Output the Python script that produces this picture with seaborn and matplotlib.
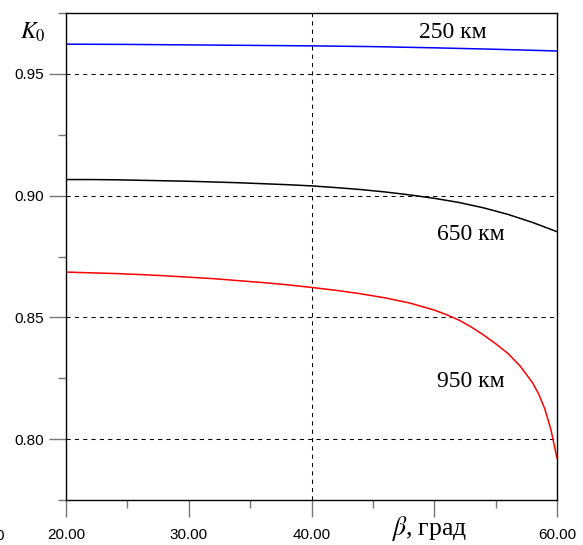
import numpy as np
import pandas as pd
import matplotlib
matplotlib.use("Agg")
import matplotlib.pyplot as plt
import seaborn as sns
from matplotlib.ticker import MultipleLocator

# ---- data ----
beta_250 = [20, 25, 30, 35, 40, 45, 50, 55, 60]
k_250 = [0.9622, 0.9621, 0.9619, 0.9617, 0.9615, 0.9612, 0.9607, 0.9601, 0.9594]

beta_650 = [20, 22, 24, 26, 28, 30, 32, 34, 36, 38, 40, 42, 44, 46, 48, 50, 52, 54, 56, 58, 60]
k_650 = [0.9066, 0.9066, 0.9065, 0.9063, 0.9061, 0.9059, 0.9056, 0.9053, 0.9049, 0.9045,
         0.9040, 0.9033, 0.9025, 0.9015, 0.9003, 0.8989, 0.8972, 0.8950, 0.8923, 0.8890, 0.8852]

beta_950 = [20, 22, 24, 26, 28, 30, 32, 34, 36, 38, 40, 42, 44, 46, 48, 50,
            51, 52, 53, 54, 55, 56, 57, 58, 58.5, 59, 59.5, 60]
k_950 = [0.8686, 0.8683, 0.8680, 0.8676, 0.8671, 0.8665, 0.8659, 0.8651, 0.8643, 0.8634,
         0.8623, 0.8611, 0.8597, 0.8580, 0.8559, 0.8530, 0.8511, 0.8489, 0.8461, 0.8428,
         0.8392, 0.8352, 0.8300, 0.8232, 0.8186, 0.8125, 0.8040, 0.7922]

series_names = ["250 км", "650 км", "950 км"]
series_colors = ["#0000ff", "#000000", "#ff0000"]

x_ticks = [20, 30, 40, 50, 60]
x_tick_labels = ["20.00", "30.00", "40.00", "", "60.00"]
y_ticks = [0.80, 0.85, 0.90, 0.95]
y_tick_labels = ["0.80", "0.85", "0.90", "0.95"]

df = pd.concat([
    pd.DataFrame({"beta": beta_250, "K": k_250, "h": series_names[0]}),
    pd.DataFrame({"beta": beta_650, "K": k_650, "h": series_names[1]}),
    pd.DataFrame({"beta": beta_950, "K": k_950, "h": series_names[2]}),
], ignore_index=True)

sns.set_theme(style="white")
plt.rcParams["font.family"] = ["Liberation Sans", "DejaVu Sans"]
plt.rcParams["text.color"] = "black"

fig = plt.figure(figsize=(5.83, 5.45), dpi=100)
ax = fig.add_axes([66 / 583, 45 / 545, 491 / 583, 487 / 545])

sns.lineplot(data=df, x="beta", y="K", hue="h", palette=dict(zip(series_names, series_colors)),
             linewidth=1.1, legend=False, ax=ax, sort=True, estimator=None)

ax.set_xlim(20, 60)
ax.set_ylim(0.775, 0.975)

ax.set_xticks(x_ticks)
ax.set_xticklabels(x_tick_labels)
ax.set_yticks(y_ticks)
ax.set_yticklabels(y_tick_labels)
ax.xaxis.set_minor_locator(MultipleLocator(5))
ax.yaxis.set_minor_locator(MultipleLocator(0.025))

ax.tick_params(axis="both", which="major", direction="out", length=12, width=1.0,
               color="#777777", labelsize=11, labelcolor="black")
ax.tick_params(axis="both", which="minor", direction="out", length=6, width=1.0, color="#777777")
ax.tick_params(axis="x", which="major", pad=8.5)
ax.tick_params(axis="y", which="major", pad=4)
ax.tick_params(bottom=True, left=True, which="both")

for s in ax.spines.values():
    s.set_color("black")
    s.set_linewidth(1.0)

# dashed grid: horizontal at major y ticks, vertical at x=40
for yv in y_ticks:
    ax.axhline(yv, color="black", linestyle=(0, (4, 4)), linewidth=0.75, zorder=0)
ax.axvline(40, color="black", linestyle=(0, (4, 4)), linewidth=0.75, zorder=0)

ax.set_xlabel("")
ax.set_ylabel("")

serif = ["Liberation Serif", "DejaVu Serif"]
ax.text(51.53, 0.9647, "250 км", fontsize=17, family=serif, ha="center", va="baseline")
ax.text(52.99, 0.8818, "650 км", fontsize=17, family=serif, ha="center", va="baseline")
ax.text(52.99, 0.8214, "950 км", fontsize=17, family=serif, ha="center", va="baseline")

fig.text(33 / 583, 1 - 39 / 545, r"$K_0$", fontsize=17, ha="center", va="baseline",
         math_fontfamily="stix")
fig.text(429 / 583, 1 - 535 / 545, r"$\beta$, град", fontsize=18.5, ha="center", va="baseline",
         family=serif, math_fontfamily="stix")
fig.text(0.0, 1 - 536 / 545, "0", fontsize=11, ha="center", va="center")

fig.savefig("out.png", dpi=100)
